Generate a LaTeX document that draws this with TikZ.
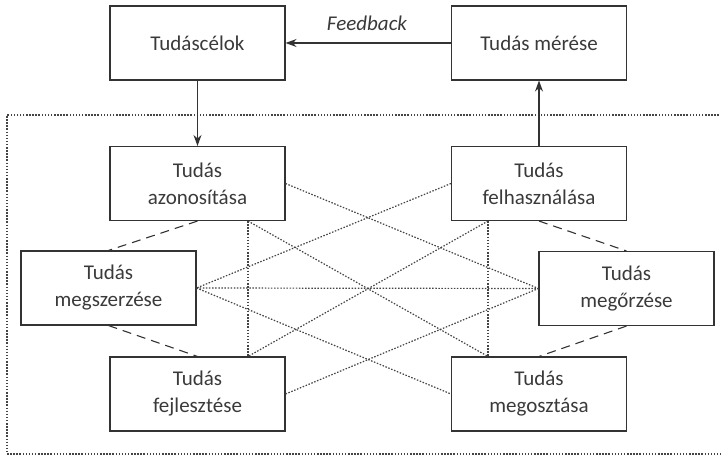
\documentclass[tikz,border=0pt]{standalone}
\usepackage{fontspec}
\setmainfont{Carlito}
\usetikzlibrary{arrows.meta}
\definecolor{linegray}{HTML}{333333}
\definecolor{textgray}{HTML}{3A3A3A}
\definecolor{dotgray}{HTML}{444444}
\begin{document}
\begin{tikzpicture}[x=1pt,y=-1pt,
  box/.style={draw=linegray, line width=1.1pt, minimum width=175pt, minimum height=74pt,
    inner sep=0pt, align=center, text=textgray, font=\fontsize{21}{27}\selectfont},
  dotline/.style={draw=dotgray, line width=1.2pt, dash pattern=on 1.5pt off 1.6pt},
  dashline/.style={draw=linegray, line width=1.1pt, dash pattern=on 9pt off 6pt},
  arr/.style={draw=linegray, line width=1.1pt, -{Stealth[length=11pt,width=8pt]}}]
\useasboundingbox (0,0) rectangle (721,465);
% outer dotted frame (open to the right edge)
\draw[dotline] (722,115) -- (7,115) -- (7,454) -- (722,454);
% nodes
\node[box] (celok)  at (197.5,43)  {Tudáscélok};
\node[box] (meres)  at (539,43)    {Tudás mérése};
\node[box] (azon)   at (197.5,183.5) {Tudás\\azonosítása};
\node[box] (felh)   at (539,183.5) {Tudás\\felhasználása};
\node[box] (megsz)  at (108.5,288) {Tudás\\megszerzése};
\node[box] (megorz) at (626.5,288.5) {Tudás\\megőrzése};
\node[box] (fejl)   at (197.5,394) {Tudás\\fejlesztése};
\node[box] (megoszt) at (539,394)  {Tudás\\megosztása};
\node[text=textgray, font=\itshape\fontsize{21}{25}\selectfont] (fb) at (367,23) {Feedback};
% helper coordinates
\coordinate (a1) at ([xshift=50.5pt]azon.south);
\coordinate (f1) at ([xshift=50.5pt]fejl.north);
\coordinate (h1) at ([xshift=-51pt]felh.south);
\coordinate (o1) at ([xshift=-51pt]megoszt.north);
% solid arrows
\draw[arr] (celok.south) -- (azon.north);
\draw[arr] (felh.north) -- (meres.south);
\draw[arr] (meres.west) -- (celok.east);
% dashed cycle links
\draw[dashline] (azon.south) -- (megsz.north);
\draw[dashline] (megsz.south) -- (fejl.north);
\draw[dashline] (felh.south) -- (megorz.north);
\draw[dashline] (megorz.south) -- (megoszt.north);
% dotted cross links
\draw[dotline] (azon.east) -- (megorz.west);
\draw[dotline] (felh.west) -- (megsz.east);
\draw[dotline] (megsz.east) -- (megorz.west);
\draw[dotline] (megsz.east) -- (megoszt.west);
\draw[dotline] (fejl.east) -- (megorz.west);
\draw[dotline] (a1) -- (f1);
\draw[dotline] (h1) -- (o1);
\draw[dotline] (a1) -- (o1);
\draw[dotline] (h1) -- (f1);
\end{tikzpicture}
\end{document}
